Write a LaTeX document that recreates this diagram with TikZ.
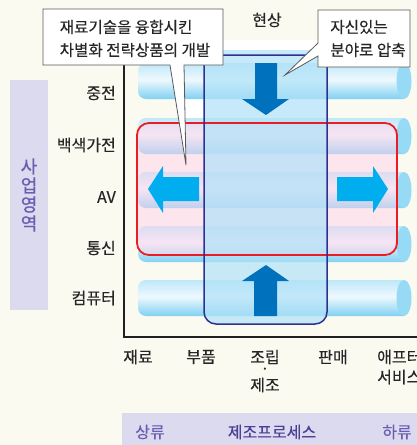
\documentclass[tikz,border=0pt]{standalone}
\usepackage{fontspec}
\setmainfont{Noto Sans CJK KR}[FakeBold=0.35]
\newfontfamily\krbold{Noto Sans CJK KR}[FakeBold=0.9]
\definecolor{cream}{HTML}{FAFAF0}
\definecolor{tubeA}{HTML}{92D8F4}
\definecolor{tubeB}{HTML}{74CCF0}
\definecolor{tubeW}{HTML}{EEF9FE}
\definecolor{tubeC}{HTML}{B4E4F8}
\definecolor{capc}{HTML}{96DAF6}
\definecolor{pinkov}{HTML}{FFD2EA}
\definecolor{colfill}{HTML}{B0E2F8}
\definecolor{navy}{HTML}{2E3192}
\definecolor{redl}{HTML}{ED1C24}
\definecolor{darkarr}{HTML}{0071BC}
\definecolor{cyanarr}{HTML}{00AEEF}
\definecolor{lav}{HTML}{DCDAEE}
\definecolor{purp}{HTML}{6A5DB2}
\definecolor{purpd}{HTML}{4B3F96}
\definecolor{axisc}{HTML}{231F20}
\pgfdeclareverticalshading{tubeshade}{100bp}{color(0bp)=(tubeA); color(22bp)=(tubeB); color(52bp)=(tubeW); color(80bp)=(tubeC); color(100bp)=(tubeA)}
\tikzset{
  lbl/.style={font=\fontsize{16}{18}\selectfont, inner sep=0pt, text=black!85},
  callout/.style={fill=white, draw=black!65, line width=0.8pt, line join=miter},
  axisline/.style={draw=axisc, line width=1.8pt},
}
\begin{document}
\begin{tikzpicture}[x=1pt,y=-1pt]
\useasboundingbox (0,0) rectangle (417,445);
\fill[cream] (0,0) rectangle (417,445);
% white area behind column top
\fill[white] (184,40) rectangle (327,123);
% side band and bottom band
\fill[lav] (10,80) rectangle (48,310);
\fill[lav] (122,413) rectangle (417,445);
% tubes
\foreach \cy in {81,136,190,244,298}{
  \shade[shading=tubeshade, rounded corners=8] (404,\cy-18) -- (138,\cy-18) -- (138,\cy+18) -- (404,\cy+18);
  \fill[capc] (404,\cy) ellipse [x radius=7.5, y radius=18];
}
% red region fill
\fill[pinkov, opacity=0.5, rounded corners=12] (137,123) rectangle (397,255);
% column fill
\fill[colfill, opacity=0.7, rounded corners=12] (204,50) -- (204,324) -- (327,324) -- (327,50);
% red border
\draw[redl, line width=1.8pt, rounded corners=12] (137,123) rectangle (397,255);
% column border
\draw[navy, line width=1.5pt, rounded corners=12] (204,55) -- (204,324) -- (327,324) -- (327,55) [sharp corners] -- cycle;
% axes
\coordinate (ytop) at (124,40);
\coordinate (origin) at (124,337);
\coordinate (xend) at (417,337);
\draw[axisline] (ytop) -- (origin) -- (xend);
% arrows
\fill[darkarr] (255,63) -- (277,63) -- (277,99) -- (289,99) -- (266,115) -- (242,99) -- (255,99) -- cycle;
\fill[darkarr] (254,316) -- (277,316) -- (277,281) -- (289,281) -- (266,265) -- (242,281) -- (254,281) -- cycle;
\fill[cyanarr] (199,177) -- (163,177) -- (163,166) -- (148,189) -- (163,213) -- (163,201) -- (199,201) -- cycle;
\fill[cyanarr] (337,177) -- (373,177) -- (373,166) -- (388,189) -- (373,213) -- (373,201) -- (337,201) -- cycle;
% callouts
\path[callout] (43,9) -- (223,9) -- (223,65) -- (184,65) -- (186,165) -- (170,65) -- (43,65) -- cycle;
\path[callout] (318,10) -- (410,10) -- (410,67) -- (318,67) -- (318,56) -- (285,75) -- (318,43) -- cycle;
\node[lbl, align=left, font=\fontsize{15.6}{23}\selectfont] (c1) at (135,38.5) {재료기술을 융합시킨\\차별화 전략상품의 개발};
\node[lbl, align=left, font=\fontsize{15.6}{23}\selectfont] (c2) at (368,38.5) {자신있는\\분야로 압축};
\node[lbl] (now) at (267,20) {현상};
% row labels
\node[lbl, anchor=east] (r1) at (116,93) {중전};
\node[lbl, anchor=east] (r2) at (116,145) {백색가전};
\node[lbl, anchor=east] (r3) at (116,197) {AV};
\node[lbl, anchor=east] (r4) at (116,248) {통신};
\node[lbl, anchor=east] (r5) at (116,298) {컴퓨터};
\node[lbl, text=purp, align=center, font=\krbold\fontsize{18}{19}\selectfont] (biz) at (29,195) {사\\업\\영\\역};
% bottom labels
\node[lbl] (b1) at (138,357) {재료};
\node[lbl] (b2) at (201,357) {부품};
\node[lbl] (b3) at (265,357) {조립};
\node[lbl] (b3d) at (265,371) {·};
\node[lbl] (b3b) at (265,385) {제조};
\node[lbl] (b4) at (333,357) {판매};
\node[lbl, anchor=west] (b5) at (377,357) {애프터};
\node[lbl, anchor=west] (b5b) at (377,377) {서비스};
\node[lbl, text=purp] (up) at (150,432) {상류};
\node[lbl, text=purpd] (mid) at (272,432) {제조프로세스};
\node[lbl, text=purp] (down) at (397,432) {하류};
\end{tikzpicture}
\end{document}
